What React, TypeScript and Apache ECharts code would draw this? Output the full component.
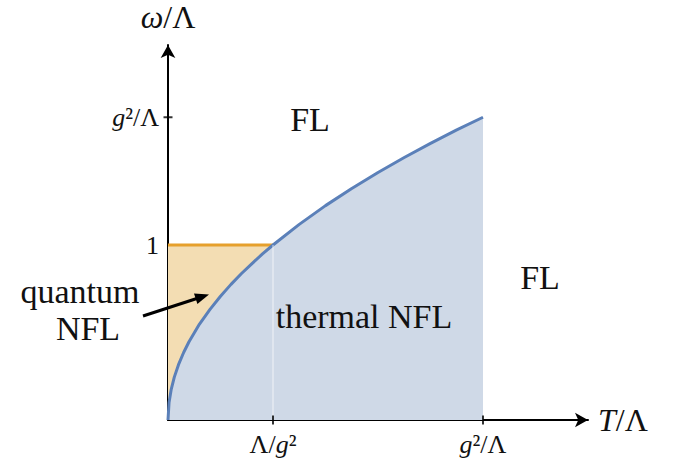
import React, { useEffect, useRef } from "react";
import * as echarts from "echarts";

// Boundary curve omega(T) (T, omega in units: Λ/g² = 1 on T, 1 on omega)
const curveT = [0, 0.01, 0.03, 0.06, 0.1, 0.15, 0.2, 0.3, 0.4, 0.5, 0.6, 0.7, 0.8, 0.9, 1, 1.25, 1.5, 1.75, 2, 2.25, 2.5, 2.75, 3];
const curveW = [0, 0.1, 0.173, 0.245, 0.316, 0.387, 0.447, 0.548, 0.632, 0.707, 0.775, 0.837, 0.894, 0.949, 1, 1.118, 1.225, 1.323, 1.414, 1.5, 1.581, 1.658, 1.73];
// Quantum NFL upper edge (omega = 1 from T = 0 to Λ/g²)
const plateauT = [0, 1];
const plateauW = [1, 1];
// Tick positions and labels
const xTickValues = [1, 3];
const xTickLabels = ["{n|Λ/}{i|g}{n|²}", "{i|g}{n|²/Λ}"];
const yTickValues = [1, 1.73];
const yTickLabels = ["{n|1}", "{i|g}{n|²/Λ}"];
const yTickMarks = [1.73];

const FONT = "Liberation Serif";

export default function App() {
  const ref = useRef<HTMLDivElement>(null);
  useEffect(() => {
    if (!ref.current) return;
    const chart = echarts.init(ref.current, null, { renderer: "svg" });
    const curve = curveT.map((t, i) => [t, curveW[i]]);
    const plateau = plateauT.map((t, i) => [t, plateauW[i]]);
    const tickRich = {
      n: { fontFamily: FONT, fontSize: 26, color: "#111" },
      i: { fontFamily: FONT, fontSize: 26, fontStyle: "italic", color: "#111" },
    };
    const titleRich = {
      n: { fontFamily: FONT, fontSize: 32, color: "#111" },
      i: { fontFamily: FONT, fontSize: 32, fontStyle: "italic", color: "#111" },
    };
    const arrowTail = [143, 316];
    const arrowTip = [209, 294.5];
    const dx = arrowTip[0] - arrowTail[0];
    const dy = arrowTip[1] - arrowTail[1];
    const len = Math.hypot(dx, dy);
    const ux = dx / len, uy = dy / len;
    const hl = 14, hw = 5.5;
    const bx = arrowTip[0] - ux * hl, by = arrowTip[1] - uy * hl;
    const label = (text: string, x: number, y: number) => ({
      type: "text",
      x,
      y,
      z: 100,
      silent: true,
      style: { text, fontSize: 34, fontFamily: FONT, fill: "#111", align: "center", verticalAlign: "middle" },
    });
    chart.setOption({
      animation: false,
      backgroundColor: "#ffffff",
      grid: { left: 168, right: 99, top: 45, bottom: 42, containLabel: false },
      xAxis: {
        type: "value",
        min: 0,
        max: 4,
        splitLine: { show: false },
        axisLine: {
          show: true,
          onZero: false,
          symbol: ["none", "arrow"],
          symbolSize: [11, 13],
          lineStyle: { color: "#000", width: 2 },
        },
        axisTick: { show: false },
        axisLabel: {
          customValues: xTickValues,
          margin: 11,
          fontSize: 26,
          fontFamily: FONT,
          formatter: (v: number) => xTickLabels[xTickValues.indexOf(v)] ?? "",
          rich: tickRich,
        },
        name: "{i|T}{n|/Λ}",
        nameLocation: "end",
        nameGap: 10,
        nameTextStyle: { rich: titleRich, fontSize: 32, fontFamily: FONT, verticalAlign: "middle" },
      },
      yAxis: {
        type: "value",
        min: 0,
        max: 2.1429,
        splitLine: { show: false },
        axisLine: {
          show: true,
          onZero: false,
          symbol: ["none", "arrow"],
          symbolSize: [11, 13],
          lineStyle: { color: "#000", width: 2 },
        },
        axisTick: { show: false },
        axisLabel: {
          customValues: yTickValues,
          margin: 9,
          fontSize: 26,
          fontFamily: FONT,
          formatter: (v: number) => yTickLabels[yTickValues.indexOf(v)] ?? "",
          rich: tickRich,
        },
        name: "{i|ω}{n|/Λ}",
        nameLocation: "end",
        nameGap: 12,
        nameTextStyle: { rich: titleRich, fontSize: 32, fontFamily: FONT, align: "center" },
      },
      series: [
        {
          type: "line",
          data: plateau,
          symbol: "none",
          silent: true,
          z: 1,
          lineStyle: { color: "#e6a02c", width: 3 },
          areaStyle: { color: "#f3ddb3", opacity: 1 },
        },
        {
          type: "line",
          data: curve,
          symbol: "none",
          silent: true,
          z: 2,
          lineStyle: { color: "#5b80b9", width: 3 },
          areaStyle: { color: "#cfd9e7", opacity: 1 },
        },
        {
          type: "line",
          data: [[xTickValues[0], 0], [xTickValues[0], curveW[curveT.indexOf(1)]]],
          symbol: "none",
          silent: true,
          z: 3,
          lineStyle: { color: "rgba(255,255,255,0.7)", width: 1 },
        },
        {
          type: "scatter",
          data: xTickValues.map((v) => [v, 0]),
          symbol: "rect",
          symbolSize: [2, 9],
          silent: true,
          z: 5,
          itemStyle: { color: "#000" },
        },
        {
          type: "scatter",
          data: yTickMarks.map((v) => [0, v]),
          symbol: "rect",
          symbolSize: [9, 2],
          silent: true,
          z: 5,
          itemStyle: { color: "#000" },
        },
      ],
      graphic: [
        label("FL", 310, 119),
        label("FL", 540, 277),
        label("thermal NFL", 364, 316),
        label("quantum", 80, 291),
        label("NFL", 88, 328),
        {
          type: "line",
          shape: { x1: arrowTail[0], y1: arrowTail[1], x2: bx + ux * 2, y2: by + uy * 2 },
          style: { stroke: "#000", lineWidth: 3 },
          silent: true,
          z: 100,
        },
        {
          type: "polygon",
          shape: {
            points: [
              [arrowTip[0], arrowTip[1]],
              [bx - uy * hw, by + ux * hw],
              [bx + uy * hw, by - ux * hw],
            ],
          },
          style: { fill: "#000" },
          silent: true,
          z: 100,
        },
      ],
    });
    return () => chart.dispose();
  }, []);
  return <div ref={ref} style={{ position: "fixed", left: 0, top: 0, width: 687, height: 462 }} />;
}
